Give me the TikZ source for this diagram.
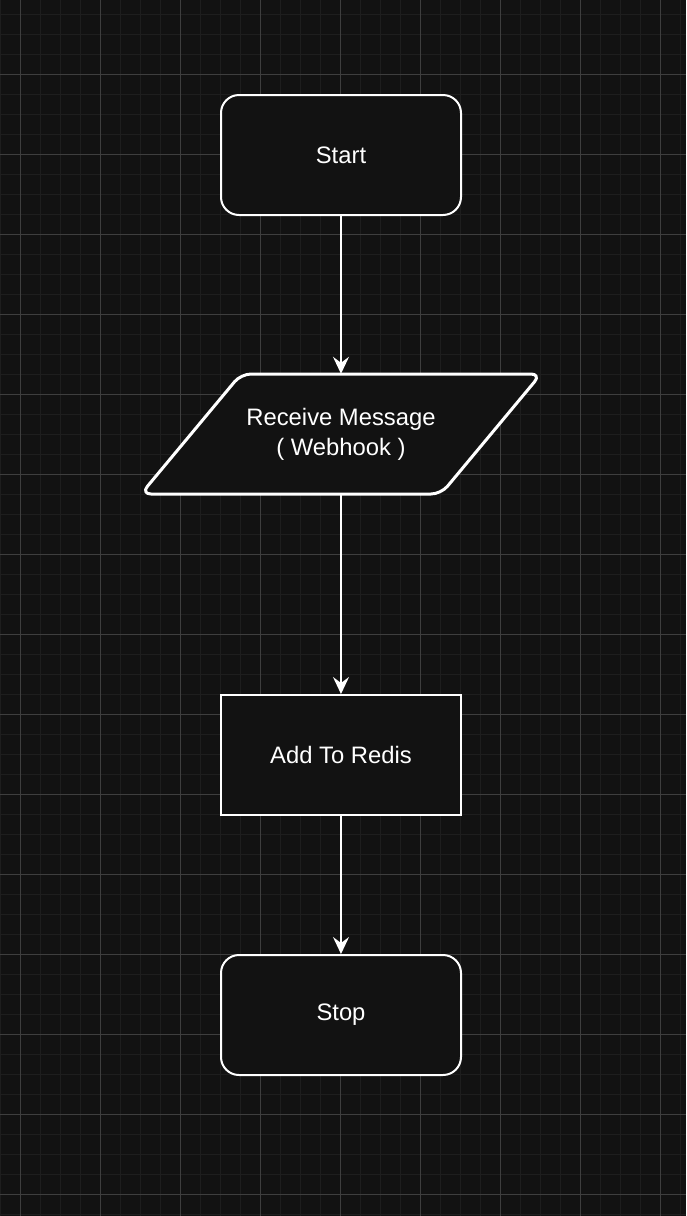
\documentclass[tikz,border=0pt]{standalone}
\usepackage{fontspec}
\setmainfont{Liberation Sans}
\usetikzlibrary{arrows.meta}
\definecolor{bg}{RGB}{18,18,18}
\definecolor{gridminor}{RGB}{30,30,30}
\definecolor{gridmajor}{RGB}{62,62,62}
\tikzset{
  box/.style={draw=white, line width=2pt, fill=bg, text=white, minimum width=240pt, minimum height=120pt, inner sep=0pt, align=center, font=\fontsize{23.8}{30}\selectfont},
  roundbox/.style={box, rounded corners=18pt},
  ghost/.style={text=white, minimum width=400pt, minimum height=120pt, inner sep=0pt, align=center, font=\fontsize{23.8}{30}\selectfont},
  para/.style={draw=white, line width=3pt, fill=bg, rounded corners=10pt, line join=round},
  flow/.style={draw=white, line width=2pt, -{Stealth[length=17pt,width=16pt,inset=6pt]}}
}
\begin{document}
\begin{tikzpicture}[x=1pt,y=-1pt]
  \fill[bg] (0,0) rectangle (686,1216);
  \useasboundingbox (0,0) rectangle (686,1216);
  % minor grid
  \foreach \gx in {0,20,...,680} \draw[gridminor, line width=1pt] (\gx,0) -- (\gx,1216);
  \foreach \gy in {14,34,...,1214} \draw[gridminor, line width=1pt] (0,\gy) -- (686,\gy);
  % major grid
  \foreach \gx in {20,100,...,660} \draw[gridmajor, line width=1pt] (\gx,0) -- (\gx,1216);
  \foreach \gy in {74,154,...,1194} \draw[gridmajor, line width=1pt] (0,\gy) -- (686,\gy);

  \node[roundbox] (start) at (341,155) {Start};
  \path[para] (241,374) -- (541,374) -- (441,494) -- (141,494) -- cycle;
  \node[ghost] (recv) at (341,434) {Receive Message\\( Webhook )};
  \node[box] (redis) at (341,755) {Add To Redis};
  \node[roundbox] (stop) at (341,1015) {Stop};

  \draw[flow] (start.south) -- (recv.north);
  \draw[flow] (recv.south) -- (redis.north);
  \draw[flow] (redis.south) -- (stop.north);
\end{tikzpicture}
\end{document}
